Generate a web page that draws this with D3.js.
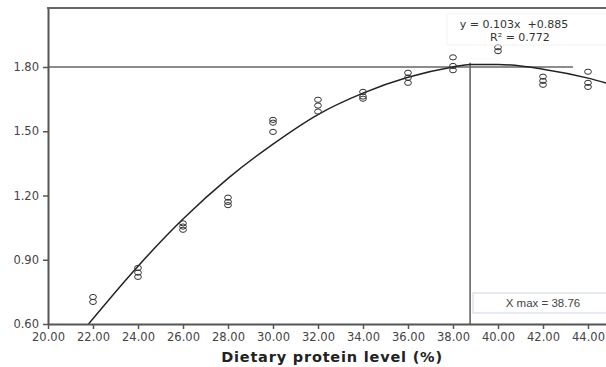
<!DOCTYPE html>
<html>
<head>
<meta charset="utf-8">
<script src="https://cdn.jsdelivr.net/npm/d3@7"></script>
<style>
  html, body { margin: 0; padding: 0; background: #fff; }
  svg { display: block; }
</style>
</head>
<body>
<svg id="chart" width="606" height="367"></svg>
<script>
// ---- data ----
const xTicks = [20, 22, 24, 26, 28, 30, 32, 34, 36, 38, 40, 42, 44];
const yTicks = [0.60, 0.90, 1.20, 1.50, 1.80];

const proteinLevels = [22, 22, 24, 24, 24, 26, 26, 26, 28, 28, 28, 30, 30, 30, 32, 32, 32,
                       34, 34, 34, 36, 36, 36, 38, 38, 38, 40, 40, 42, 42, 42, 44, 44, 44];
const observed = [0.726, 0.703, 0.862, 0.840, 0.820, 1.070, 1.055, 1.040, 1.190, 1.170, 1.155,
                  1.553, 1.540, 1.497, 1.647, 1.620, 1.592, 1.684, 1.662, 1.652, 1.773, 1.750, 1.726,
                  1.845, 1.805, 1.785, 1.892, 1.874, 1.755, 1.735, 1.717, 1.778, 1.726, 1.707];

// fitted curve
const fitX = [21.8, 24, 26, 28, 30, 32, 34, 36, 38, 38.76, 40, 42, 44, 44.8];
const fitY = [0.600, 0.870, 1.090, 1.280, 1.440, 1.578, 1.678, 1.752, 1.800, 1.812, 1.812, 1.790, 1.748, 1.725];

const refY = 1.80;
const xMax = 38.76;
const eqLines = ["y = 0.103x  +0.885", "R\u00B2 = 0.772"];
const xMaxLabel = "X max = 38.76";
const xTitle = "Dietary protein level (%)";

// ---- drawing ----
const svg = d3.select("#chart");
const x = d3.scaleLinear().domain([20, 44.8]).range([48, 606]);
const y = d3.scaleLinear().domain([0.6, 2.0755]).range([324, 8]);

svg.append("defs").append("clipPath").attr("id", "clip")
  .append("rect").attr("x", 48).attr("y", 8).attr("width", 558).attr("height", 316);

const axisColor = "#555";
const tickFont = "DejaVu Sans, sans-serif";

// reference lines
svg.append("line")
  .attr("x1", x(20)).attr("x2", x(43.33))
  .attr("y1", y(refY)).attr("y2", y(refY))
  .attr("stroke", "#666").attr("stroke-width", 1.3);
svg.append("line")
  .attr("x1", x(xMax)).attr("x2", x(xMax))
  .attr("y1", y(1.82)).attr("y2", y(0.6))
  .attr("stroke", "#666").attr("stroke-width", 1.6);

// fitted curve
const line = d3.line().x(d => x(d[0])).y(d => y(d[1])).curve(d3.curveMonotoneX);
svg.append("path")
  .datum(fitX.map((v, i) => [v, fitY[i]]))
  .attr("clip-path", "url(#clip)")
  .attr("d", line)
  .attr("fill", "none").attr("stroke", "#222").attr("stroke-width", 1.5);

// data points
svg.append("g").attr("clip-path", "url(#clip)")
  .selectAll("ellipse").data(proteinLevels.map((v, i) => [v, observed[i]]))
  .join("ellipse")
  .attr("cx", d => x(d[0])).attr("cy", d => y(d[1]))
  .attr("rx", 3.4).attr("ry", 2.6)
  .attr("fill", "none").attr("stroke", "#333").attr("stroke-width", 1);

// axes
const xAxis = svg.append("g").attr("transform", "translate(0,324)")
  .call(d3.axisBottom(x).tickValues(xTicks).tickFormat(d3.format(".2f")).tickSize(5).tickSizeOuter(0));
const yAxis = svg.append("g").attr("transform", "translate(48,0)")
  .call(d3.axisLeft(y).tickValues(yTicks).tickFormat(d3.format(".2f")).tickSize(5).tickSizeOuter(0));
[xAxis, yAxis].forEach(g => {
  g.select(".domain").attr("stroke", axisColor).attr("stroke-width", 2);
  g.selectAll(".tick line").attr("stroke", axisColor).attr("stroke-width", 1.5);
  g.selectAll(".tick text").attr("fill", "#444").style("font-family", tickFont).style("font-size", "11.5px");
});
xAxis.selectAll(".tick text").attr("dy", "0.75em").attr("y", 8);
yAxis.selectAll(".tick text").attr("x", -9);

// top border
svg.append("line").attr("x1", 47).attr("x2", 606).attr("y1", 8).attr("y2", 8)
  .attr("stroke", "#666").attr("stroke-width", 2);

// equation box
svg.append("rect").attr("x", 447).attr("y", 14).attr("width", 160).attr("height", 31)
  .attr("fill", "none").attr("stroke", "#f3f3f3").attr("stroke-width", 1);
svg.append("g").selectAll("text").data(eqLines).join("text")
  .attr("x", (d, i) => i === 0 ? 514 : 520)
  .attr("y", (d, i) => 28 + i * 13)
  .attr("text-anchor", "middle")
  .style("white-space", "pre")
  .style("font-family", tickFont).style("font-size", "11px").attr("fill", "#333")
  .text(d => d);

// X max box
svg.append("rect").attr("x", 473).attr("y", 293).attr("width", 140).attr("height", 20)
  .attr("fill", "#fff").attr("stroke", "#cdd5e3").attr("stroke-width", 1);
svg.append("text").attr("x", 543).attr("y", 307).attr("text-anchor", "middle")
  .style("font-family", "Liberation Sans, Arial, sans-serif").style("font-size", "11.5px").attr("fill", "#444")
  .text(xMaxLabel);

// axis title
svg.append("text").attr("x", 332).attr("y", 362).attr("text-anchor", "middle")
  .style("font-family", "DejaVu Sans, sans-serif").style("font-size", "14.5px").style("font-weight", "bold")
  .style("letter-spacing", "0.8px")
  .attr("fill", "#222").text(xTitle);
</script>
</body>
</html>
